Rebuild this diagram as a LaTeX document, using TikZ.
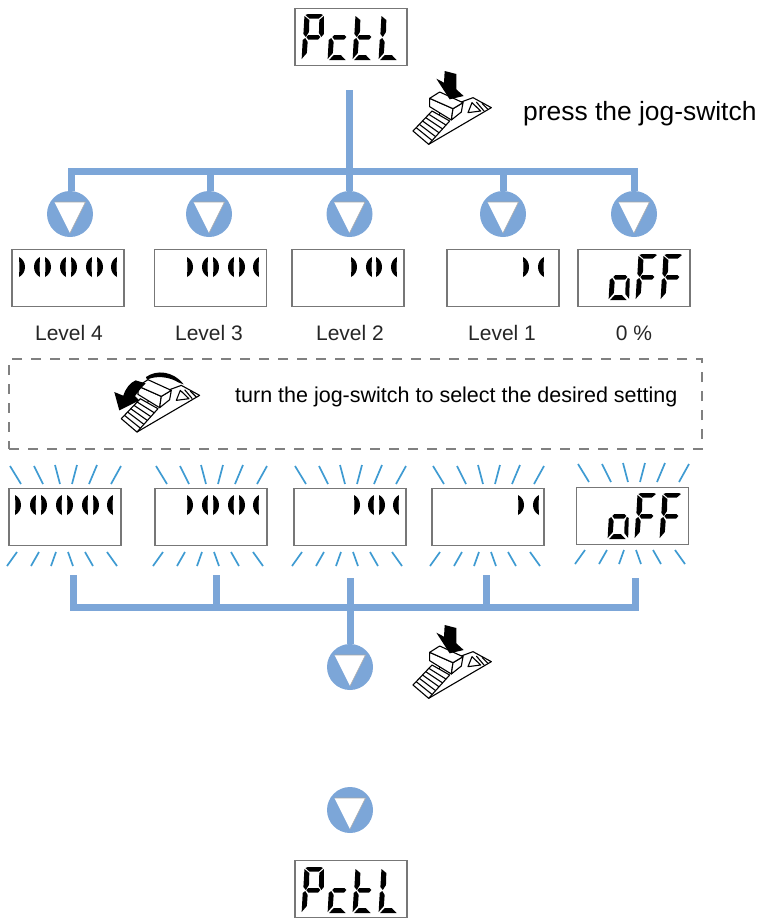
\documentclass[tikz,border=0pt]{standalone}
\usepackage{fontspec}
\setmainfont{Liberation Sans}
\definecolor{flowblue}{HTML}{7CA6D8}
\definecolor{rayblue}{HTML}{3F9BD2}
\definecolor{framegray}{HTML}{777777}
\definecolor{dashgray}{HTML}{808080}
\expandafter\newcommand\csname seg@a\endcsname{\fill (2.5,1) -- (5,0) -- (18,0) -- (20,1) -- (16,4.5) -- (6.5,4.5) -- cycle;}
\expandafter\newcommand\csname seg@b\endcsname{\fill (21,2) -- (21.5,20) -- (19,23) -- (16.5,19) -- (16.5,6) -- cycle;}
\expandafter\newcommand\csname seg@c\endcsname{\fill (20.5,25) -- (20.5,45) -- (16.5,40) -- (16.5,29) -- (18.5,24) -- cycle;}
\expandafter\newcommand\csname seg@d\endcsname{\fill (6,41) -- (13,41) -- (18,46) -- (1.5,46) -- cycle;}
\expandafter\newcommand\csname seg@e\endcsname{\fill (0.5,26) -- (3,24) -- (5.5,28) -- (5,39) -- (0,45) -- cycle;}
\expandafter\newcommand\csname seg@f\endcsname{\fill (1.5,2) -- (6.5,6) -- (6.5,18) -- (3.5,23) -- (1,20) -- cycle;}
\expandafter\newcommand\csname seg@g\endcsname{\fill (6,21) -- (16,21) -- (18,23) -- (16,25.5) -- (6,25.5) -- (4,23) -- cycle;}
\newcommand\digitat[3]{\begin{scope}[shift={(#1,#2)},xslant=0.03]
  \foreach \s in {#3} {\csname seg@\s\endcsname}
\end{scope}}
\newcommand\barL[2]{\fill[shift={(#1,#2)}] (0,0) .. controls (8,4) and (8,16) .. (0,20) -- (0.5,10) -- cycle;}
\newcommand\barR[2]{\fill[shift={(#1,#2)}] (6,0) .. controls (-2,4) and (-2,16) .. (6,20) -- (5.5,10) -- cycle;}
\newcommand\flowmark[3]{%
  \node[flowdot] (#1) at (#2,#3) {};
  \fill[white] ([shift={(-15.5,-12)}]#1.center) -- ([shift={(15.5,-12)}]#1.center) -- ([shift={(0,19)}]#1.center) -- cycle;
  \draw[gray!70,line width=0.6pt] ([shift={(-15.5,-12)}]#1.center) -- ([shift={(15.5,-12)}]#1.center) -- ([shift={(0,19)}]#1.center);
}
\newcommand\rays[2]{\begin{scope}[shift={(#1,#2)}]
  \draw[rayline] (1,-23) -- (12,-5) (25,-23) -- (34,-5) (46,-24) -- (51,-5) (68,-24) -- (63,-5) (88,-24) -- (80,-5) (112,-23) -- (102,-5);
  \draw[rayline] (8,63) -- (-2,77) (30,63) -- (22,77) (47,63) -- (42,77) (59,63) -- (64,77) (76,63) -- (84,77) (98,63) -- (108,77);
\end{scope}}
\tikzset{
  display/.style={draw=framegray,line width=1.1pt,fill=white,minimum width=112pt,minimum height=57pt,inner sep=0pt,outer sep=0pt},
  flowdot/.style={circle,fill=flowblue,minimum size=46pt,inner sep=0pt,outer sep=0pt},
  flowbar/.style={draw=flowblue,line width=7pt},
  rayline/.style={draw=rayblue,line width=1.7pt},
  caption/.style={font=\fontsize{21}{25}\selectfont,text=black!85,inner sep=0pt},
  pics/swbody/.style={code={
    \begin{scope}[scale=1/3,line width=1.1pt,line join=round]
      % ramp
      \draw[fill=white] (62,235) -- (250,125) -- (195,95) -- (100,130) -- cycle;
      % stairs
      \draw[fill=white] (15,195) -- (62,235) -- (125,165) -- (72,135) -- cycle;
      \foreach \i in {1,2,3,4,5} {\draw ({15+9.5*\i},{195-10*\i}) -- ({62+10.5*\i},{235-11.5*\i});}
      % switch block
      \draw[fill=white] (65,97) -- (65,122) -- (130,162) -- (135,128) -- cycle;
      \draw[fill=white] (135,128) -- (165,110) -- (160,138) -- (130,162) -- cycle;
      \draw[fill=white] (65,97) -- (95,78) -- (165,110) -- (135,128) -- cycle;
      % small window
      \draw[fill=white] (192,110) -- (180,140) -- (218,135) -- cycle;
      \draw (205,108) -- (228,135) (222,112) -- (240,130);
    \end{scope}}},
  pics/swpress/.style={code={
    \pic {swbody};
    \begin{scope}[scale=1/3]
      \fill (110,15) -- (145,24) -- (145,70) -- (167,90) -- (125,100) -- (85,38) -- (108,50) -- cycle;
    \end{scope}}},
  pics/swturn/.style={code={
    \pic {swbody};
    \begin{scope}[scale=1/3]
      \fill (-6,115) -- (9,170) -- (69,140) -- (56,127) .. controls (66,114) and (76,100) .. (88,89) -- (58,80) .. controls (41,87) and (28,104) .. (21,126) -- cycle;
      \fill (89,70) .. controls (121,47) and (171,52) .. (202,92) -- (186,86) .. controls (161,70) and (121,64) .. (92,78) -- cycle;
    \end{scope}}}
}
\begin{document}
\begin{tikzpicture}[x=1pt,y=-1pt]
\useasboundingbox (0,0) rectangle (761,918);
% top display
\node[display] (top) at (351,37) {};
\digitat{303}{14}{a,b,e,f,g}
\digitat{329}{14}{d,e,g}
\digitat{354}{14}{d,e,f,g}
\digitat{380}{14}{d,e,f}
\pic at (408,66) {swpress};
\node[caption,anchor=west,font=\fontsize{26.4}{30}\selectfont,text=black] (presstext) at (523,114) {press the jog-switch};
% upper tree
\coordinate (start) at (349.5,90);
\coordinate (hub) at (349.5,171);
\flowmark{c4}{70}{214}
\flowmark{c3}{209}{214}
\flowmark{c2}{349.5}{214}
\flowmark{c1}{503}{214}
\flowmark{c0}{634}{214}
\draw[flowbar] (start) -- (hub);
\draw[flowbar] (c4.north) ++(1,0) |- (hub);
\draw[flowbar] (c3.north) ++(1,0) |- (hub);
\draw[flowbar] (c2.north) -- (hub);
\draw[flowbar] (c1.north) |- (hub);
\draw[flowbar] (c0.north) |- (hub);
% first row of displays
\node[display] (d4) at (68,278) {};
\node[display] (d3) at (210.5,278) {};
\node[display] (d2) at (348,278) {};
\node[display] (d1) at (503,278) {};
\node[display] (d0) at (634,278) {};
\foreach \o/\k in {7/L,22/R,33/L,48/R,59/L,74/R,85/L,99/R} {\csname bar\k\endcsname{12+\o}{257}}
\foreach \o/\k in {32/L,47/R,58/L,73/R,84/L,98/R} {\csname bar\k\endcsname{155+\o}{257}}
\foreach \o/\k in {59/L,74/R,84/L,99/R} {\csname bar\k\endcsname{292+\o}{257}}
\foreach \o/\k in {76/L,91/R} {\csname bar\k\endcsname{447+\o}{257}}
\digitat{610}{254}{c,d,e,g}
\digitat{637}{254}{a,e,f,g}
\digitat{662}{254}{a,e,f,g}
\node[caption] (t4) at (69,333) {Level 4};
\node[caption] (t3) at (209,333) {Level 3};
\node[caption] (t2) at (350,333) {Level 2};
\node[caption] (t1) at (502,333) {Level 1};
\node[caption] (t0) at (634,333) {0 \%};
% dashed box
\node[draw=dashgray,dash pattern=on 10pt off 9pt,line width=2pt,minimum width=693pt,minimum height=90pt,inner sep=0pt] (hint) at (355.5,404) {};
\pic at (116.3,353.7) {swturn};
\node[caption,anchor=west,text=black,font=\fontsize{21.5}{25}\selectfont] (turntext) at (235,397) {turn the jog-switch to select the desired setting};
% second row
\node[display] (e4) at (65,517) {};
\node[display] (e3) at (211,517) {};
\node[display] (e2) at (350,517) {};
\node[display] (e1) at (488,517) {};
\node[display] (e0) at (632.5,516) {};
\rays{9}{489}
\rays{155}{489}
\rays{294}{489}
\rays{432}{489}
\rays{577}{487}
\foreach \o/\k in {6/L,21/R,32/L,47/R,58/L,73/R,84/L,98/R} {\csname bar\k\endcsname{9+\o}{495}}
\foreach \o/\k in {32/L,47/R,58/L,73/R,84/L,98/R} {\csname bar\k\endcsname{155+\o}{495}}
\foreach \o/\k in {60/L,74/R,85/L,99/R} {\csname bar\k\endcsname{294+\o}{495}}
\foreach \o/\k in {86/L,101/R} {\csname bar\k\endcsname{432+\o}{495}}
\digitat{609}{493}{c,d,e,g}
\digitat{636}{493}{a,e,f,g}
\digitat{661}{493}{a,e,f,g}
% lower tree
\coordinate (l4) at (73,575);
\coordinate (l3) at (216,575);
\coordinate (l2) at (350,578);
\coordinate (l1) at (486,575);
\coordinate (l0) at (635,578);
\coordinate (hubb) at (350,607.5);
\flowmark{c5}{350}{667}
\flowmark{c6}{350}{810}
\draw[flowbar] (l4) |- (hubb);
\draw[flowbar] (l3) |- (hubb);
\draw[flowbar] (l2) -- (c5.north);
\draw[flowbar] (l1) |- (hubb);
\draw[flowbar] (l0) |- (hubb);
\pic at (408,620) {swpress};
% bottom display
\node[display] (bot) at (351,889) {};
\digitat{303}{867}{a,b,e,f,g}
\digitat{329}{867}{d,e,g}
\digitat{354}{867}{d,e,f,g}
\digitat{380}{867}{d,e,f}
\end{tikzpicture}
\end{document}
